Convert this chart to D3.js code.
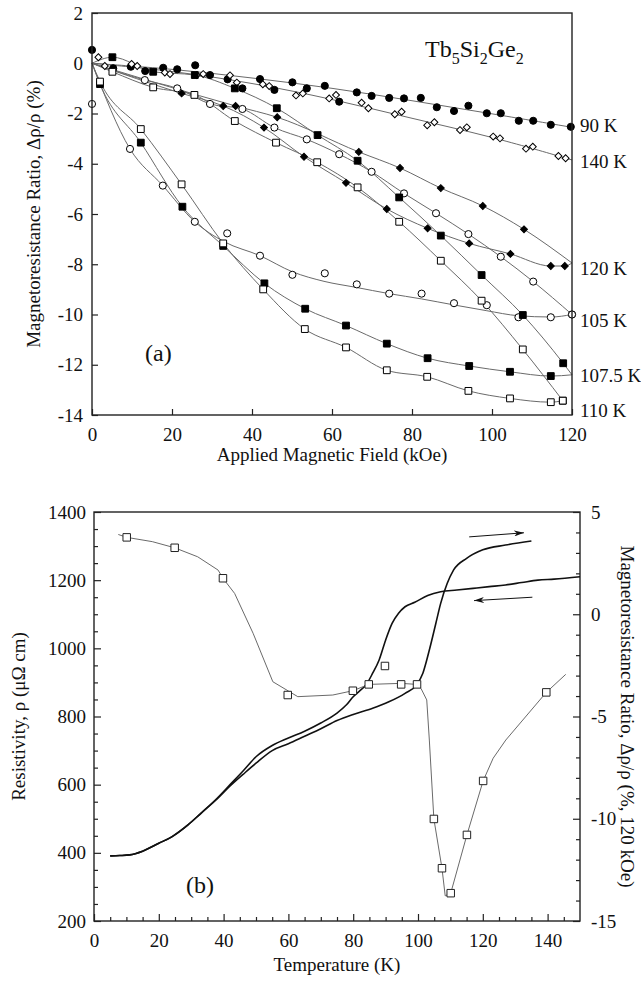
<!DOCTYPE html>
<html><head><meta charset="utf-8">
<script src="https://cdn.jsdelivr.net/npm/d3@7"></script>
<style>
body{margin:0;background:#fff}
text{font-family:"Liberation Serif","Times New Roman",serif;fill:#111}
</style>
</head><body>
<svg id="c" width="641" height="981"></svg>
<script>
// ---------------- Panel (a) data: [field kOe, MR %] ----------------
const fieldTicks = [0,20,40,60,80,100,120];
const mrTicksA = [2,0,-2,-4,-6,-8,-10,-12,-14];

const s90 = [[0,0.53],[5.3,-0.2],[9.7,-0.14],[13.3,-0.31],[17.8,-0.18],[21.3,-0.24],[25.8,-0.08],[29.5,-0.47],[33.9,-0.64],[37.6,-1.0],[42,-0.63],[45.6,-1.06],[50.1,-0.76],[53.7,-1.0],[58.2,-0.9],[61.8,-1.53],[66.2,-1.16],[69.9,-1.3],[74.3,-1.38],[78,-1.4],[82.2,-1.38],[86.2,-1.75],[90.5,-1.9],[94.1,-1.69],[98.7,-1.99],[102.2,-1.99],[106.7,-2.29],[110.3,-2.29],[114.7,-2.45],[119.7,-2.53]];
const fit90 = [[0,0],[20,-0.22],[40,-0.58],[60,-0.98],[80,-1.49],[100,-2.01],[120,-2.55]];

const s140 = [[1.6,0.24],[3.2,-0.11],[9.9,-0.03],[11.3,-0.11],[18.2,-0.37],[19.5,-0.43],[26.2,-0.47],[27.8,-0.43],[34.5,-0.48],[36.2,-0.77],[42.7,-0.84],[44.3,-0.91],[51,-1.28],[52.7,-1.2],[59.3,-1.4],[61,-1.26],[67.4,-1.57],[69.1,-1.79],[75.7,-2.03],[77.4,-1.93],[83.8,-2.47],[85.6,-2.35],[92,-2.66],[93.7,-2.55],[100.3,-2.92],[102,-2.99],[108.5,-3.4],[110.2,-3.32],[116.6,-3.69],[118.4,-3.78]];
const fit140 = [[0,0],[20,-0.3],[40,-0.78],[60,-1.42],[80,-2.2],[100,-2.92],[120,-3.85]];

const s120up = [[35.9,-1.7],[46.3,-2.15],[66.7,-3.53],[77,-4.17],[87.2,-4.97],[97.7,-5.68],[108,-6.61]];
const s120upEnd = [[120,-7.95]];
const s120dn = [[22.4,-1.2],[32.8,-1.7],[43,-2.56],[53,-3.72],[63.5,-4.76],[73.7,-5.8],[83.9,-6.57],[94.3,-7.17],[104.6,-7.59],[114.7,-8.07],[118.2,-8.07]];
const s120dnEnd = [[120,-7.95]];

const s105up = [[13.2,-0.67],[21.3,-1.0],[29.5,-1.62],[37.6,-1.82],[45.6,-2.56],[53.7,-3.03],[61.8,-3.62],[69.9,-4.32],[78,-5.18],[86,-5.97],[94.1,-6.8],[102.2,-7.7],[110.3,-8.69],[120,-10.0]];
const s105dn = [[0,-1.62],[9.5,-3.41],[17.7,-4.87],[25.7,-6.31],[33.8,-6.77],[42,-7.66],[50.1,-8.42],[58.2,-8.36],[66.2,-8.8],[74.3,-9.17],[82.4,-9.17],[90.5,-9.55],[98.7,-9.63],[106.6,-10.11],[114.7,-10.11],[120,-10.0]];
const fit105dn = [[0,0],[9.5,-3.41],[17.7,-4.87],[25.7,-6.31],[33,-7.1],[42,-7.66],[50.1,-8.3],[58,-8.68],[66,-8.92],[74.3,-9.17],[82.4,-9.38],[90.5,-9.62],[98.7,-9.85],[106.6,-10.05],[114.7,-10.1],[120,-10.0]];

const s107up = [[5.1,0.24],[15.3,-0.34],[25.7,-0.47],[35.7,-1.0],[46.2,-1.79],[56.4,-2.86],[66.4,-3.88],[76.8,-5.34],[87.2,-6.86],[97.4,-8.43],[107.7,-10.02],[117.8,-11.94]];
const s107upEnd = [[120,-12.4]];
const s107dn = [[2,-0.83],[12.2,-3.16],[22.6,-5.71],[32.8,-7.27],[43.1,-8.76],[53.3,-9.77],[63.5,-10.44],[73.7,-11.16],[83.9,-11.74],[94.3,-12.05],[104.5,-12.28],[114.7,-12.45]];
const s107dnEnd = [[120,-12.4]];

const s110up = [[5.1,-0.34],[15.3,-0.96],[25.6,-1.26],[35.7,-2.3],[46,-3.16],[56.3,-3.94],[66.4,-4.94],[76.8,-6.31],[87.2,-7.86],[97.4,-9.45],[107.7,-11.39],[117.7,-13.43]];
const s110dn = [[2,-0.73],[12.2,-2.62],[22.4,-4.82],[32.8,-7.17],[42.8,-9.0],[53.2,-10.58],[63.5,-11.31],[73.7,-12.22],[83.8,-12.48],[94.1,-13.04],[104.5,-13.34],[114.7,-13.49],[117.7,-13.43]];

const tempLabels = ["90 K","140 K","120 K","105 K","107.5 K","110 K"];
const tempLabelPos = [-2.46,-3.92,-8.16,-10.22,-12.41,-13.8];

// ---------------- Panel (b) data ----------------
const tempTicks = [0,20,40,60,80,100,120,140];
const rhoTicks = [200,400,600,800,1000,1200,1400];
const mrTicksB = [5,0,-5,-10,-15];

const coolT = [5,8,11,15,20,24,29,33,38,42,46,50,55,60,65,70,75,78,80,82,84,86,88,90,92,94,96,99,103,107,112,117,122,127,132,137,142,150];
const coolRho = [391,392,394,405,428,447,482,516,560,600,640,682,715,737,757,781,810,835,858,875,893,927,966,1024,1073,1103,1122,1135,1155,1166,1171,1176,1181,1186,1193,1200,1203,1210];
const warmT = [5,8,11,15,20,24,29,33,38,42,46,50,55,60,65,70,75,80,86,91,96,99.5,101.5,103.5,105.5,107,109,111,115,120,127,135];
const warmRho = [391,392,394,405,428,447,482,516,558,596,630,663,700,720,742,764,788,806,824,843,868,892,927,995,1073,1132,1190,1230,1264,1289,1303,1315];

const mrT = [10.1,24.9,39.8,59.8,79.9,84.8,89.8,94.8,99.7,104.9,107.4,110.1,115.1,120.1,139.6];
const mrV = [3.76,3.25,1.76,-3.95,-3.74,-3.43,-2.53,-3.43,-3.43,-10.01,-12.42,-13.64,-10.79,-8.15,-3.82];
const mrLineT = [7.5,10.1,18,24.9,32,38.3,39.8,43.4,49.1,55.2,62.9,73.7,79.9,84.8,94.8,99.7,100.9,102.7,103.5,104.9,107.4,108.4,110.1,115.1,120.1,123.2,127.1,139.6,145.6];
const mrLineV = [3.9,3.76,3.55,3.25,2.81,2.16,1.76,1.02,-0.93,-3.3,-4.03,-3.95,-3.74,-3.43,-3.38,-3.43,-3.62,-4.19,-6.15,-10.01,-12.42,-13.77,-13.64,-10.79,-8.15,-7.04,-6.15,-3.82,-2.94];

const arrowWarm = [[115.8,1327],[132.7,1339]];
const arrowCool = [[135.3,1150],[117.3,1140]];

// ---------------- Drawing ----------------
const svg = d3.select("#c");
const xA = d3.scaleLinear([0,120],[92,572]);
const yA = d3.scaleLinear([-14,2],[415,13]);
const xB = d3.scaleLinear([0,150],[94,580]);
const yBL = d3.scaleLinear([200,1400],[921,512]);
const yBR = d3.scaleLinear([-15,5],[921,512]);
const fmt = d => String(d);

function styleAxis(g){
  g.attr("font-family",null).attr("font-size",null);
  g.select(".domain").remove();
  g.selectAll(".tick line").attr("stroke","#222").attr("stroke-width",1.2);
  g.selectAll(".tick text").style("font-size","19px").attr("fill","#111");
}

// ---- Panel a axes ----
svg.append("g").attr("transform",`translate(${xA(0)},0)`)
  .call(d3.axisLeft(yA).tickValues(mrTicksA).tickSize(-6).tickPadding(9).tickFormat(fmt))
  .call(styleAxis);
svg.append("g").attr("transform",`translate(0,${yA(-14)})`)
  .call(d3.axisBottom(xA).tickValues(fieldTicks).tickSize(-6).tickPadding(13).tickFormat(fmt))
  .call(styleAxis);

// lines
const lineA = d3.line().x(d=>xA(d[0])).y(d=>yA(d[1])).curve(d3.curveMonotoneX);
const lineFit = d3.line().x(d=>xA(d[0])).y(d=>yA(d[1])).curve(d3.curveBasis);
const gray = "#6a6a6a";
const branches = [
  {pts:s90, line:fit90, gen:lineFit, sym:"circle", fill:"#000"},
  {pts:s140, line:fit140, gen:lineFit, sym:"diamond", fill:"#fff"},
  {pts:s120up, line:[[0,0],...s120up,...s120upEnd], gen:lineA, sym:"diamond", fill:"#000"},
  {pts:s120dn, line:[[0,0],...s120dn,...s120dnEnd], gen:lineA, sym:"diamond", fill:"#000"},
  {pts:s105up, line:[[0,0],...s105up], gen:lineA, sym:"circle", fill:"#fff"},
  {pts:s105dn, line:fit105dn, gen:lineA, sym:"circle", fill:"#fff"},
  {pts:s107up, line:[[0,0],...s107up,...s107upEnd], gen:lineA, sym:"square", fill:"#000"},
  {pts:s107dn, line:[[0,0],...s107dn,...s107dnEnd], gen:lineA, sym:"square", fill:"#000"},
  {pts:s110up, line:[[0,0],...s110up], gen:lineA, sym:"square", fill:"#fff"},
  {pts:s110dn, line:[[0,0],...s110dn], gen:lineA, sym:"square", fill:"#fff"}
];
const gA = svg.append("g");
branches.forEach(b=>{
  gA.append("path").attr("d",b.gen(b.line)).attr("fill","none").attr("stroke",gray).attr("stroke-width",1);
});
const symGen = {
  circle: d3.symbol(d3.symbolCircle, 40),
  square: d3.symbol(d3.symbolSquare, 46),
  diamond: d3.symbol(d3.symbolSquare, 24)
};
branches.forEach(b=>{
  gA.selectAll(null).data(b.pts).enter().append("path")
    .attr("d", symGen[b.sym]())
    .attr("transform", d=>`translate(${xA(d[0])},${yA(d[1])})${b.sym==="diamond"?" rotate(45)":""}`)
    .attr("fill", b.fill).attr("stroke","#000").attr("stroke-width",1);
});

// frame a
svg.append("rect").attr("x",xA(0)).attr("y",yA(2)).attr("width",xA(120)-xA(0)).attr("height",yA(-14)-yA(2))
  .attr("fill","none").attr("stroke","#222").attr("stroke-width",1.4);

// labels a
svg.selectAll(null).data(tempLabels).enter().append("text")
  .attr("x",580).attr("y",(d,i)=>yA(tempLabelPos[i])).attr("dy","0.35em")
  .style("font-size","19px").text(d=>d);

const tb = svg.append("text").attr("x",425).attr("y",57).style("font-size","24px");
[["Tb",0],["5",1],["Si",0],["2",1],["Ge",0],["2",1]].forEach(([t,s],i,arr)=>{
  const prevSub = i>0 ? arr[i-1][1] : 0;
  tb.append("tspan").text(t).style("font-size", s? "16px":"24px")
    .attr("dy", s && !prevSub ? 7 : (!s && prevSub ? -7 : 0));
});
svg.append("text").attr("x",145).attr("y",361).style("font-size","24px").text("(a)");
svg.append("text").attr("x",(xA(0)+xA(120))/2).attr("y",461).attr("text-anchor","middle")
  .style("font-size","19px").text("Applied Magnetic Field (kOe)");
svg.append("text").attr("transform",`translate(40,${yA(-6)}) rotate(-90)`).attr("text-anchor","middle")
  .style("font-size","19px").text("Magnetoresistance Ratio, Δρ/ρ (%)");

// ---- Panel b axes ----
svg.append("g").attr("transform",`translate(${xB(0)},0)`)
  .call(d3.axisLeft(yBL).tickValues(rhoTicks).tickSize(-7).tickPadding(8).tickFormat(fmt))
  .call(styleAxis);
svg.append("g").attr("transform",`translate(${xB(0)},0)`)
  .call(d3.axisLeft(yBL).tickValues(d3.range(250,1400,50).filter(v=>v%200!==0)).tickSize(-4).tickFormat(""))
  .call(styleAxis);
svg.append("g").attr("transform",`translate(0,${yBL(200)})`)
  .call(d3.axisBottom(xB).tickValues(tempTicks).tickSize(-7).tickPadding(13).tickFormat(fmt))
  .call(styleAxis);
svg.append("g").attr("transform",`translate(0,${yBL(200)})`)
  .call(d3.axisBottom(xB).tickValues(d3.range(5,150,5).filter(v=>v%20!==0)).tickSize(-4).tickFormat(""))
  .call(styleAxis);
svg.append("g").attr("transform",`translate(${xB(150)},0)`)
  .call(d3.axisRight(yBR).tickValues(mrTicksB).tickSize(-7).tickPadding(11).tickFormat(fmt))
  .call(styleAxis);
svg.append("g").attr("transform",`translate(${xB(150)},0)`)
  .call(d3.axisRight(yBR).tickValues(d3.range(-14,5,1).filter(v=>v%5!==0)).tickSize(-4).tickFormat(""))
  .call(styleAxis);

svg.append("rect").attr("x",xB(0)).attr("y",yBL(1400)).attr("width",xB(150)-xB(0)).attr("height",yBL(200)-yBL(1400))
  .attr("fill","none").attr("stroke","#222").attr("stroke-width",1.4);

const lineRho = d3.line().x(d=>xB(d[0])).y(d=>yBL(d[1])).curve(d3.curveMonotoneX);
svg.append("path").attr("d",lineRho(coolT.map((t,i)=>[t,coolRho[i]]))).attr("fill","none").attr("stroke","#111").attr("stroke-width",1.6);
svg.append("path").attr("d",lineRho(warmT.map((t,i)=>[t,warmRho[i]]))).attr("fill","none").attr("stroke","#111").attr("stroke-width",1.6);

const lineMR = d3.line().x(d=>xB(d[0])).y(d=>yBR(d[1]));
svg.append("path").attr("d",lineMR(mrLineT.map((t,i)=>[t,mrLineV[i]]))).attr("fill","none").attr("stroke",gray).attr("stroke-width",1);
svg.selectAll(null).data(mrT.map((t,i)=>[t,mrV[i]])).enter().append("path")
  .attr("d", d3.symbol(d3.symbolSquare,56)())
  .attr("transform", d=>`translate(${xB(d[0])},${yBR(d[1])})`)
  .attr("fill","#fff").attr("stroke","#222").attr("stroke-width",1);

// arrows
const defs = svg.append("defs");
defs.append("marker").attr("id","ah").attr("viewBox","0 0 10 6").attr("refX",10).attr("refY",3)
  .attr("markerWidth",10).attr("markerHeight",6).attr("markerUnits","userSpaceOnUse").attr("orient","auto")
  .append("path").attr("d","M0,0 L10,3 L0,6 L3,3 Z").attr("fill","#111");
[arrowWarm, arrowCool].forEach(a=>{
  svg.append("line").attr("x1",xB(a[0][0])).attr("y1",yBL(a[0][1])).attr("x2",xB(a[1][0])).attr("y2",yBL(a[1][1]))
    .attr("stroke","#111").attr("stroke-width",1).attr("marker-end","url(#ah)");
});

svg.append("text").attr("x",186).attr("y",893).style("font-size","24px").text("(b)");
svg.append("text").attr("x",(xB(0)+xB(150))/2).attr("y",971).attr("text-anchor","middle")
  .style("font-size","19px").text("Temperature (K)");
svg.append("text").attr("transform",`translate(25,${(yBL(200)+yBL(1400))/2}) rotate(-90)`).attr("text-anchor","middle")
  .style("font-size","19px").text("Resistivity, ρ (μΩ cm)");
svg.append("text").attr("transform",`translate(621,${(yBL(200)+yBL(1400))/2}) rotate(90)`).attr("text-anchor","middle")
  .style("font-size","19px").text("Magnetoresistance Ratio, Δρ/ρ (%, 120 kOe)");
</script>
</body></html>
